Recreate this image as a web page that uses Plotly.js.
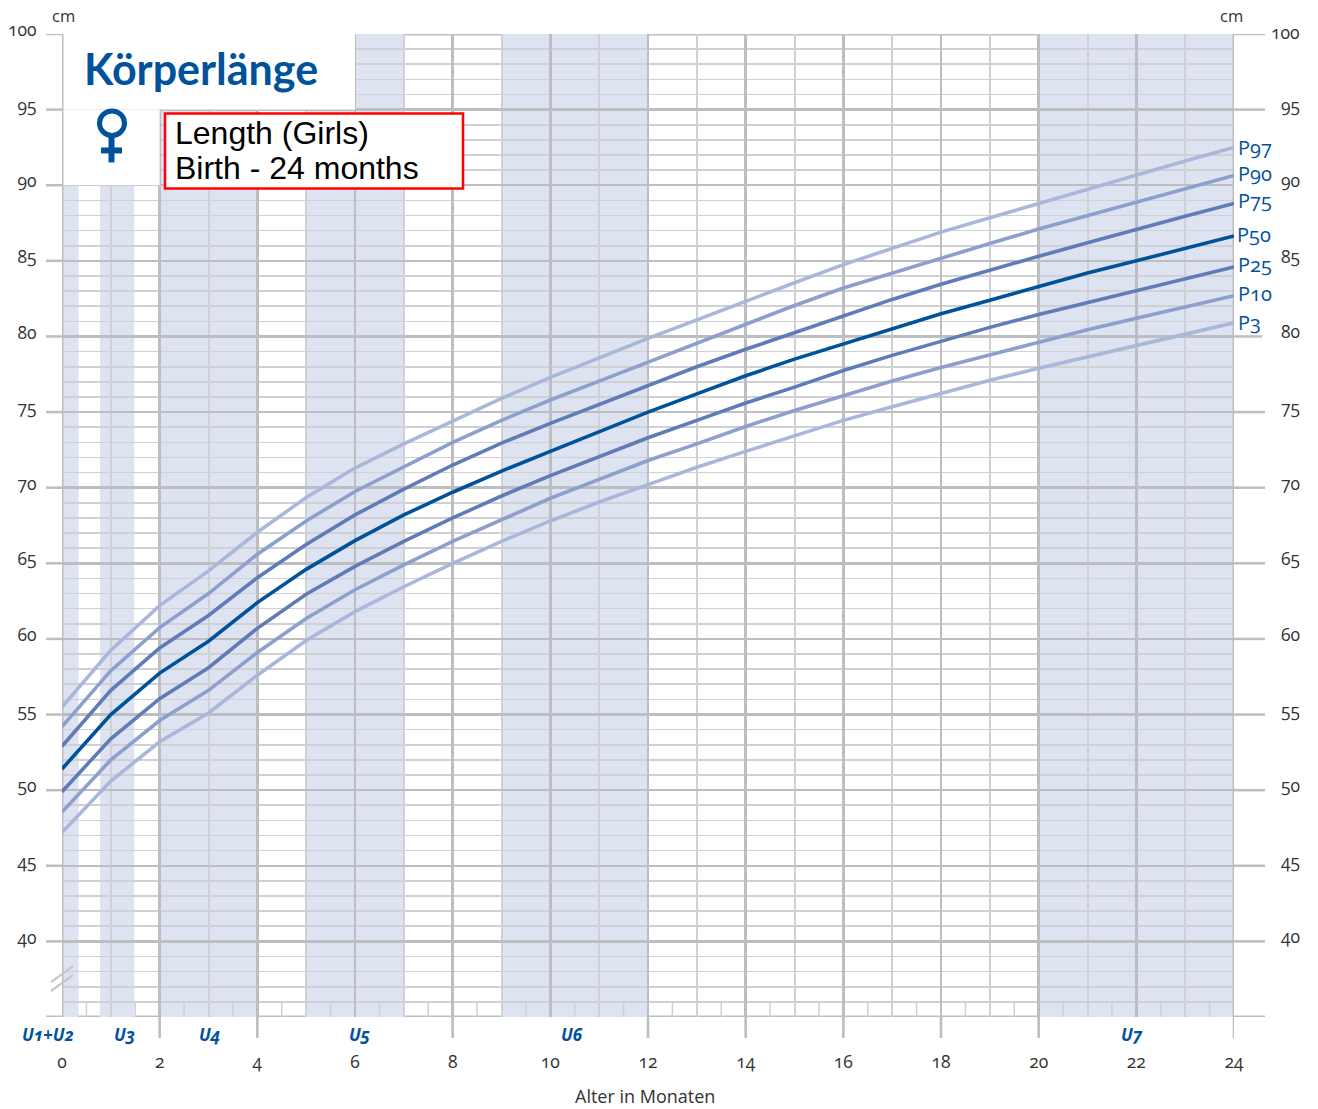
<!DOCTYPE html>
<html><head><meta charset="utf-8">
<script src="https://cdn.plot.ly/plotly-3.0.1.min.js"></script>
<style>
html,body{margin:0;padding:0;background:#fff;overflow:hidden}
text{font-feature-settings:"onum" 1;}
</style></head><body><div id="chart" style="width:1318px;height:1109px"></div>
<script>
const months=[0,1,2,3,4,5,6,7,8,9,10,11,12,13,14,15,16,17,18,19,20,21,22,23,24];
const p97=[55.5,59.25,62.2,64.5,67.05,69.35,71.3,72.9,74.4,75.9,77.3,78.6,79.87,81.1,82.35,83.55,84.75,85.85,86.9,87.85,88.8,89.75,90.7,91.6,92.5];
const p90=[54.2,57.9,60.75,63,65.6,67.8,69.75,71.4,73,74.45,75.8,77.05,78.3,79.6,80.85,82.05,83.2,84.2,85.2,86.15,87.1,88,88.9,89.8,90.65];
const p75=[52.9,56.6,59.4,61.55,64.05,66.25,68.2,69.9,71.5,72.95,74.25,75.5,76.8,78,79.15,80.25,81.4,82.45,83.45,84.4,85.3,86.2,87.1,87.95,88.8];
const p50=[51.4,55,57.74,59.85,62.4,64.6,66.5,68.2,69.7,71.1,72.4,73.7,75,76.2,77.4,78.5,79.5,80.5,81.5,82.4,83.3,84.2,85,85.8,86.65];
const p25=[49.9,53.4,56.05,58.1,60.7,62.95,64.8,66.45,68,69.45,70.8,72.05,73.3,74.45,75.6,76.65,77.75,78.75,79.7,80.6,81.45,82.25,83.05,83.85,84.6];
const p10=[48.55,52,54.6,56.6,59.1,61.35,63.25,64.9,66.45,67.9,69.3,70.55,71.8,72.9,74.05,75.1,76.1,77.05,77.95,78.8,79.65,80.45,81.2,81.95,82.7];
const p3=[47.2,50.6,53.2,55.1,57.6,59.9,61.8,63.45,65,66.45,67.8,69.05,70.2,71.35,72.4,73.45,74.45,75.35,76.25,77.1,77.9,78.65,79.4,80.1,80.9];

const seriesNames=['P97','P90','P75','P50','P25','P10','P3'];
const seriesValues=[p97,p90,p75,p50,p25,p10,p3];
const seriesColors=['#a9b7da','#8c9fcd','#5f7cb8','#00529b','#5f7cb8','#8c9fcd','#a9b7da'];
const labelY=[147,173,200,234,264,293,322];
const labelX=[1236.5,1236.5,1236.5,1235.5,1236.5,1236.5,1236.5];

const bandStarts=[0,0.78,2,5,9,20];
const bandEnds=[0.34,1.48,4,7,12,24];
const bandNames=['U1+U2','U3','U4','U5','U6','U7'];
const bandLabelX=[48,124,209,359,572,1132];

const xTicks=[0,2,4,6,8,10,12,14,16,18,20,22,24];
const yTicks=[40,45,50,55,60,65,70,75,80,85,90,95,100];
const rightRules=[100,95,80,75,70,65,60,55,50,45,40];
const belowTicks=[2,4,8,12,14,16,18,20,24];
const halfMonths=[];
for(let i=0;i<24;i++)halfMonths.push(i+0.5);

const W=1318,H=1109,L=62,R=1234,T=33.5,B=1017;
const GRID='#bdbec1',MINOR='#d0d1d4',BLUE='#00529b',BAND='#dde3f1',INK='#333333';
const FONT='"Open Sans","Noto Sans",sans-serif';
const px=x=>(x-L)/(R-L), py=y=>(B-y)/(B-T);
const yPix=v=>T+(100-v)*(B-T)/65;

const shapes=[];
bandStarts.forEach((s,i)=>shapes.push({type:'rect',layer:'below',xref:'x',yref:'y',x0:s,x1:bandEnds[i],y0:35,y1:100,fillcolor:BAND,line:{width:0}}));
shapes.push({type:'rect',layer:'between',xref:'x',yref:'y',x0:0,x1:6,y0:95,y1:100,fillcolor:'#fff',line:{width:0}});
shapes.push({type:'rect',layer:'between',xref:'x',yref:'y',x0:0,x1:2,y0:90,y1:95,fillcolor:'#fff',line:{width:0}});
halfMonths.forEach(m=>shapes.push({type:'line',layer:'between',xref:'x',yref:'y',x0:m,x1:m,y0:35,y1:36,line:{color:MINOR,width:1.5}}));
// frame
[0,24].forEach(m=>shapes.push({type:'line',layer:'between',xref:'x',yref:'y',x0:m,x1:m,y0:35,y1:100,line:{color:GRID,width:3}}));
yTicks.forEach(v=>shapes.push({type:'line',layer:'between',xref:'paper',yref:'y',x0:px(46),x1:0,y0:v,y1:v,line:{color:GRID,width:2.5}}));
rightRules.forEach(v=>shapes.push({type:'line',layer:'between',xref:'paper',yref:'y',x0:1,x1:px(v===80?1262:1265),y0:v,y1:v,line:{color:GRID,width:2.5}}));
shapes.push({type:'line',layer:'between',xref:'paper',yref:'y',x0:0,x1:1,y0:100,y1:100,line:{color:GRID,width:3}});
shapes.push({type:'line',layer:'between',xref:'paper',yref:'y',x0:px(46),x1:px(1265),y0:35,y1:35,line:{color:GRID,width:3}});
belowTicks.forEach(m=>shapes.push({type:'line',xref:'x',yref:'paper',x0:m,x1:m,y0:0,y1:py(1038),line:{color:GRID,width:2.6}}));
// axis break
[[982,966],[991,975]].forEach(a=>shapes.push({type:'line',xref:'paper',yref:'paper',x0:px(51),x1:px(73),y0:py(a[0]),y1:py(a[1]),line:{color:'#c6c7ca',width:2.2}}));
// female symbol
shapes.push({type:'circle',xref:'paper',yref:'paper',x0:px(99.5),x1:px(124.5),y0:py(135),y1:py(110.5),fillcolor:'rgba(0,0,0,0)',line:{color:BLUE,width:5}});
shapes.push({type:'line',xref:'paper',yref:'paper',x0:px(111.5),x1:px(111.5),y0:py(135),y1:py(162),line:{color:BLUE,width:6}});
shapes.push({type:'line',xref:'paper',yref:'paper',x0:px(101),x1:px(122),y0:py(150),y1:py(150),line:{color:BLUE,width:6}});
// caption box
shapes.push({type:'rect',xref:'paper',yref:'paper',x0:px(165),x1:px(463),y0:py(188),y1:py(113),fillcolor:'#fff',line:{color:'#ff0000',width:2.5}});

const ann=[];
const addText=(text,x,y,size,color,extra)=>ann.push(Object.assign({text,xref:'paper',yref:'paper',x:px(x),y:py(y),showarrow:false,xanchor:'center',yanchor:'middle',font:{family:FONT,size,color},borderpad:0},extra||{}));
addText('Körperlänge',201,68,43,BLUE,{font:{family:'Lato,sans-serif',size:43,color:BLUE,weight:700}});
const capFont={family:'"Liberation Sans",Arial,sans-serif',size:32,color:'#000'};
addText('Length (Girls)',174,133,32,'#000',{xanchor:'left',font:capFont});
addText('Birth - 24 months',174,168,32,'#000',{xanchor:'left',font:capFont});
addText('cm',63,15,16.5,INK);
addText('cm',1231,15,16.5,INK);
addText('Alter in Monaten',645,1096,18,INK);
bandNames.forEach((n,i)=>addText('<b><i>'+n+'</i></b>',bandLabelX[i],1035,17,BLUE));
seriesNames.forEach((n,i)=>addText(n,labelX[i],labelY[i],20,BLUE,{xanchor:'left'}));
yTicks.forEach(v=>addText(String(v),1301,yPix(v)-(v===100?2:5),17.5,INK,{xanchor:'right'}));

const traces=seriesNames.map((n,i)=>({type:'scatter',mode:'lines',name:n,x:months,y:seriesValues[i],line:{color:seriesColors[i],width:3.6,shape:'linear'},hoverinfo:'name+x+y'}));

const layout={width:W,height:H,margin:{l:L,r:W-R,t:T,b:H-B},paper_bgcolor:'#fff',plot_bgcolor:'#fff',showlegend:false,
 xaxis:{range:[0,24],tickmode:'array',tickvals:xTicks,ticktext:xTicks.map(String),ticks:'outside',ticklen:29,tickcolor:'rgba(0,0,0,0)',
  tickfont:{family:FONT,size:17.5,color:INK},showgrid:true,gridcolor:GRID,gridwidth:2.6,
  minor:{dtick:1,tick0:0,showgrid:true,gridcolor:MINOR,gridwidth:2,ticks:''},showline:false,zeroline:false},
 yaxis:{range:[35,100],tickmode:'array',tickvals:yTicks,ticktext:yTicks.map(String),ticks:'outside',ticklen:21,tickcolor:'rgba(0,0,0,0)',ticklabelshift:-4,
  tickfont:{family:FONT,size:17.5,color:INK},showgrid:true,gridcolor:GRID,gridwidth:2.5,
  minor:{dtick:1,tick0:0,showgrid:true,gridcolor:MINOR,gridwidth:1.6,ticks:''},showline:false,zeroline:false},
 shapes,annotations:ann};
Plotly.newPlot('chart',traces,layout,{displayModeBar:false,staticPlot:true});
</script></body></html>
